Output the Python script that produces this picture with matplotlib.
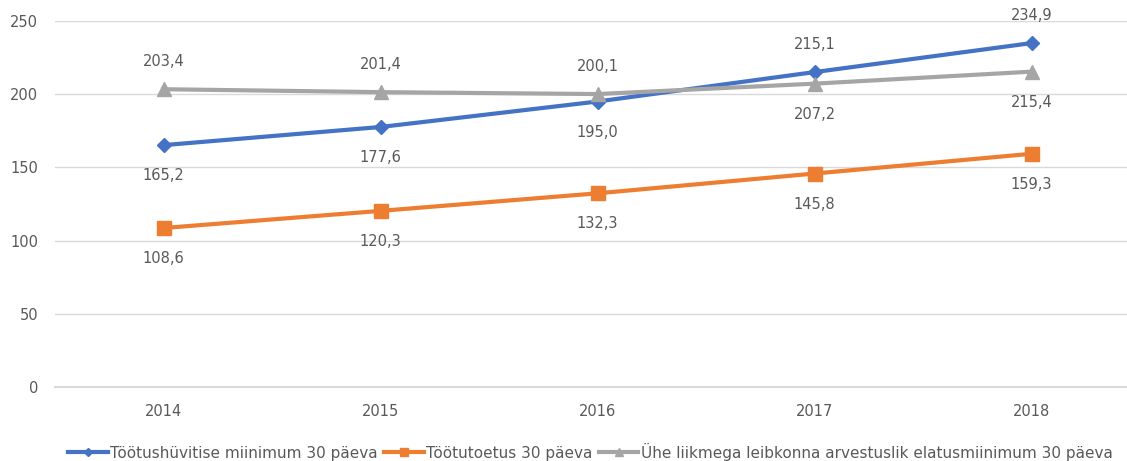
import matplotlib.pyplot as plt

years = ['2014', '2015', '2016', '2017', '2018']
toohuvitis = [165.2, 177.6, 195.0, 215.1, 234.9]
tootutoetus = [108.6, 120.3, 132.3, 145.8, 159.3]
elatusmiinimum = [203.4, 201.4, 200.1, 207.2, 215.4]

names = ['Töötushüvitise miinimum 30 päeva',
         'Töötutoetus 30 päeva',
         'Ühe liikmega leibkonna arvestuslik elatusmiinimum 30 päeva']

blue = '#4472C4'
orange = '#ED7D31'
grey = '#A5A5A5'
txt = '#595959'

fig = plt.figure(figsize=(11.27, 4.61), dpi=100)
ax = fig.add_axes([55/1127, (461-387)/461, 1085/1127, 366/461])

x = list(range(len(years)))
ax.plot(x, toohuvitis, color=blue, lw=3, marker='D', ms=7, label=names[0], zorder=3)
ax.plot(x, tootutoetus, color=orange, lw=3, marker='s', ms=10, label=names[1], zorder=3)
ax.plot(x, elatusmiinimum, color=grey, lw=3, marker='^', ms=10, label=names[2], zorder=3)

def lab(v):
    return f'{v:.1f}'.replace('.', ',')

# data labels: offsets in points, negative = below
blue_off = [-22, -22, -22, 20, 20]
grey_off = [20, 20, 20, -22, -22]
for i in x:
    ax.annotate(lab(toohuvitis[i]), (i, toohuvitis[i]), xytext=(0, blue_off[i]),
                textcoords='offset points', ha='center', va='center', fontsize=10.5, color=txt)
    ax.annotate(lab(tootutoetus[i]), (i, tootutoetus[i]), xytext=(0, -22),
                textcoords='offset points', ha='center', va='center', fontsize=10.5, color=txt)
    ax.annotate(lab(elatusmiinimum[i]), (i, elatusmiinimum[i]), xytext=(0, grey_off[i]),
                textcoords='offset points', ha='center', va='center', fontsize=10.5, color=txt)

ax.set_xlim(-0.5, 4.5)
ax.set_ylim(0, 250)
ax.set_yticks(range(0, 251, 50))
ax.set_xticks(x)
ax.set_xticklabels(years)
ax.tick_params(length=0, colors=txt, labelsize=10.5)
ax.tick_params(axis='x', pad=12)
ax.tick_params(axis='y', pad=12)
ax.grid(axis='y', color='#D9D9D9', lw=1)
ax.set_axisbelow(True)
for s in ax.spines.values():
    s.set_visible(False)
ax.axhline(0, color='#D9D9D9', lw=1.5, clip_on=False)

fig.legend(loc='center', bbox_to_anchor=(0.524, 0.02), ncol=3, frameon=False,
           prop={'size': 11}, labelcolor=txt, handlelength=2.6, handletextpad=0.15,
           columnspacing=0.4, markerscale=0.6)

fig.savefig('out.png', dpi=100)
